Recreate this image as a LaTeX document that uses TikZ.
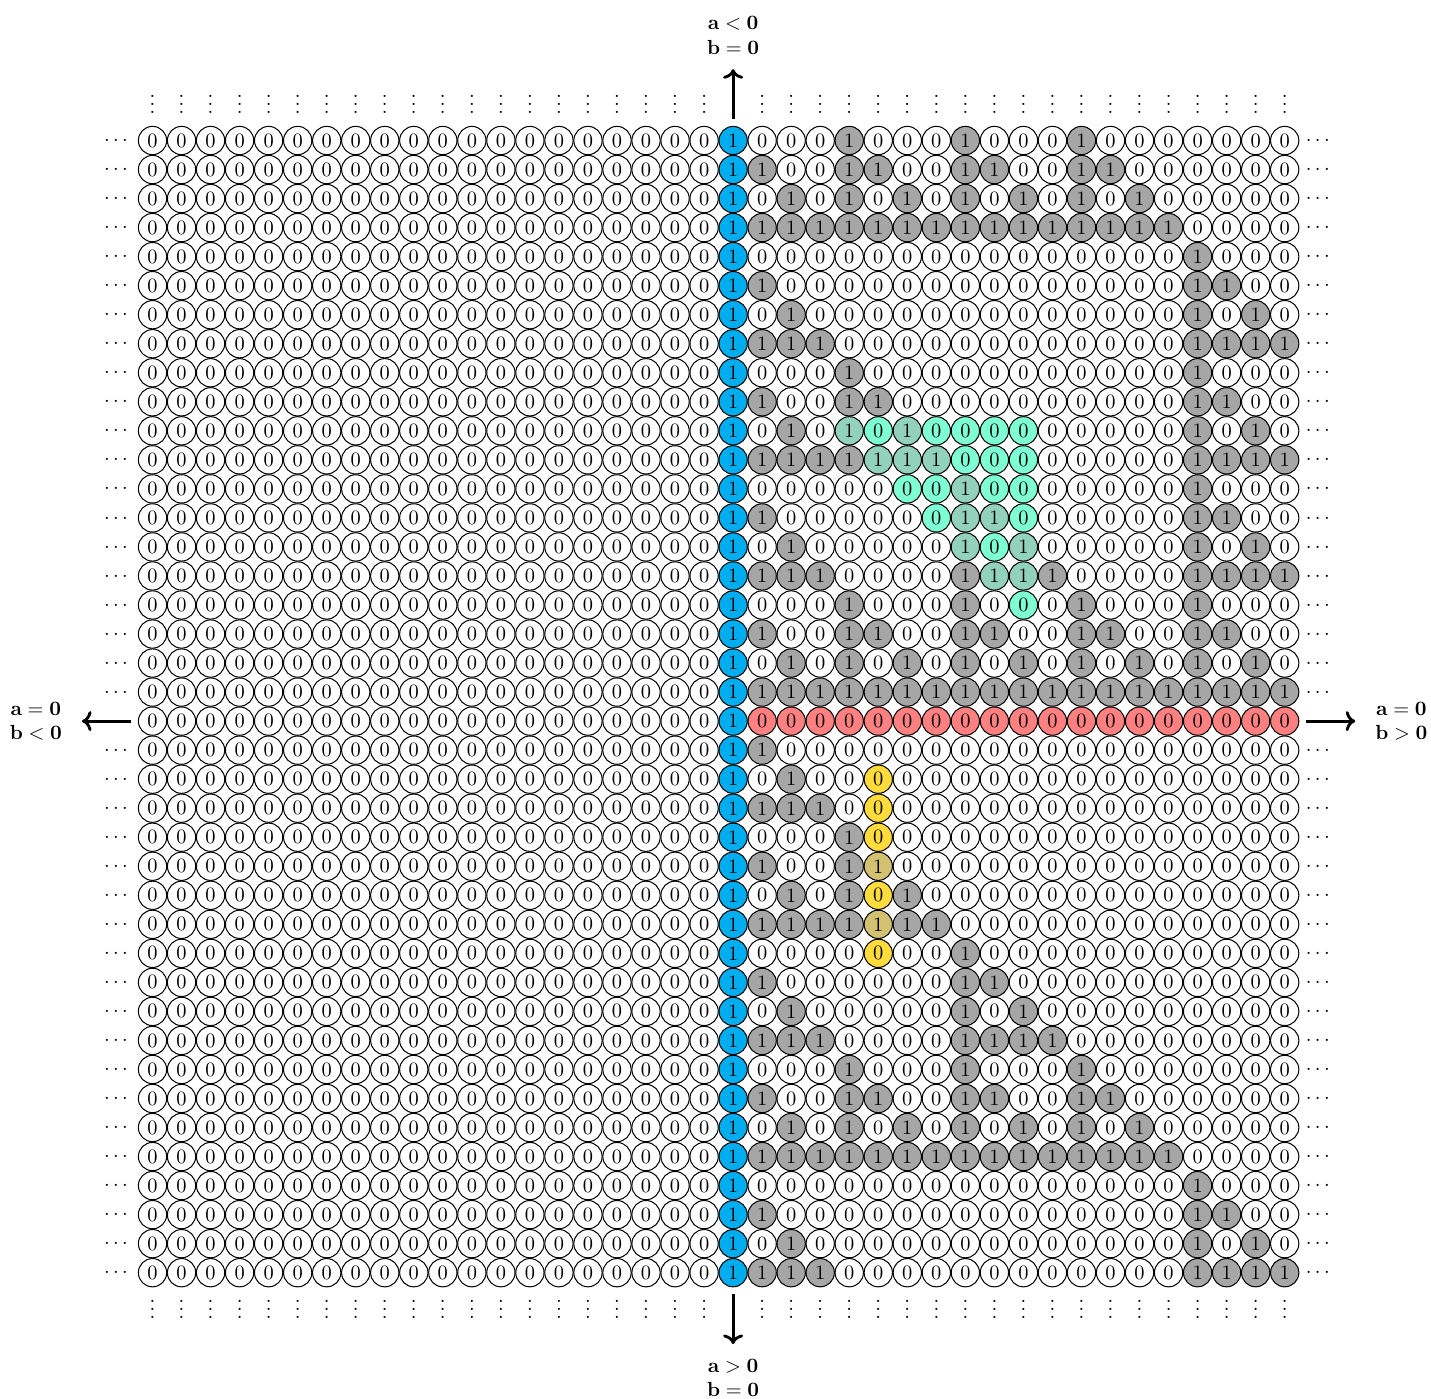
\documentclass[tikz,border=0pt]{standalone}
\usepackage{amsmath}
\usepackage{xcolor}
\usetikzlibrary{arrows.meta,positioning}
\definecolor{axisblue}{HTML}{00AEEF}
\definecolor{onegray}{HTML}{A6A6A6}
\definecolor{basered}{HTML}{FF8080}
\definecolor{sumgreen}{HTML}{7FFFD4}
\definecolor{sumteal}{HTML}{92D2BD}
\definecolor{colgold}{HTML}{FFDC3C}
\definecolor{colkhaki}{HTML}{D2C170}

% bitwise and of two small integers, result in \bandres
\newcommand\bitsand[2]{%
  \pgfmathtruncatemacro\bandres{mod(#1,2)*mod(#2,2)
    +2*mod(floor(#1/2),2)*mod(floor(#2/2),2)
    +4*mod(floor(#1/4),2)*mod(floor(#2/4),2)
    +8*mod(floor(#1/8),2)*mod(floor(#2/8),2)
    +16*mod(floor(#1/16),2)*mod(floor(#2/16),2)}}

\begin{document}
\begin{tikzpicture}[
  x=5mm, y=5mm,
  cell/.style={circle, draw, line width=0.5pt, minimum size=4.87mm, inner sep=0pt},
  dotsnode/.style={inner sep=0pt, anchor=base},
  axislabel/.style={inner sep=0pt, align=center},
  axisarrow/.style={->, line width=1.4pt, shorten <=1.2mm}
]
\useasboundingbox (-5.254,4.84) rectangle (44.04,-43.35);
% grid of cells
\foreach \row in {0,...,39}{
  \foreach \col in {0,...,39}{
    \def\cellval{0}\def\cellfill{white}
    \ifnum\col=20 \def\cellval{1}\def\cellfill{axisblue}\fi
    \ifnum\col>20
      \pgfmathtruncatemacro\jj{\col-20}
      \ifnum\row<20
        \pgfmathtruncatemacro\mm{19-\row}
        \bitsand{\jj}{\mm}
        \ifnum\bandres=0 \def\cellval{1}\fi
      \fi
      \ifnum\row>20
        \pgfmathtruncatemacro\kk{\row-20}
        \bitsand{\jj}{\kk}
        \ifnum\bandres=\jj \def\cellval{1}\fi
      \fi
      \ifnum\cellval=1 \def\cellfill{onegray}\fi
      \ifnum\row=20 \def\cellfill{basered}\fi
      % triangle above the red row
      \pgfmathtruncatemacro\lowj{\row-6}
      \ifnum\row>9 \ifnum\row<17 \ifnum\jj<11 \ifnum\jj<\lowj\else
        \ifnum\cellval=1 \def\cellfill{sumteal}\else\def\cellfill{sumgreen}\fi
      \fi\fi\fi\fi
      % column below the red row
      \ifnum\jj=5 \ifnum\row>21 \ifnum\row<29
        \ifnum\cellval=1 \def\cellfill{colkhaki}\else\def\cellfill{colgold}\fi
      \fi\fi\fi
    \fi
    \node[cell, fill=\cellfill] (n-\row-\col) at (\col,-\row) {\cellval};
  }
}
% dots
\foreach \row in {0,...,39}{
  \ifnum\row=20\else
    \node[dotsnode] (ldots-\row) at (-1.2,-\row-0.176) {$\cdots$};
    \node[dotsnode] (rdots-\row) at (40.2,-\row-0.176) {$\cdots$};
  \fi
}
\foreach \col in {0,...,39}{
  \ifnum\col=20\else
    \node[dotsnode] (tdots-\col) at (\col,0.936) {$\vdots$};
    \node[dotsnode] (bdots-\col) at (\col,-40.572) {$\vdots$};
  \fi
}
% axis labels
\node[axislabel] (lbl-top) at (20,3.62) {$\mathbf{a<0}$\\$\mathbf{b=0}$};
\node[axislabel] (lbl-bottom) at (20,-42.62) {$\mathbf{a>0}$\\$\mathbf{b=0}$};
\node[axislabel] (lbl-left) at (-4.02,-20) {$\mathbf{a=0}$\\$\mathbf{b<0}$};
\node[axislabel] (lbl-right) at (43.02,-20) {$\mathbf{a=0}$\\$\mathbf{b>0}$};
\draw[axisarrow, shorten >=2.5mm] (n-0-20) -- (lbl-top);
\draw[axisarrow, shorten >=2.5mm] (n-39-20) -- (lbl-bottom);
\draw[axisarrow, shorten >=3.4mm] (n-20-0) -- (lbl-left);
\draw[axisarrow, shorten >=3.4mm] (n-20-39) -- (lbl-right);
\end{tikzpicture}
\end{document}
